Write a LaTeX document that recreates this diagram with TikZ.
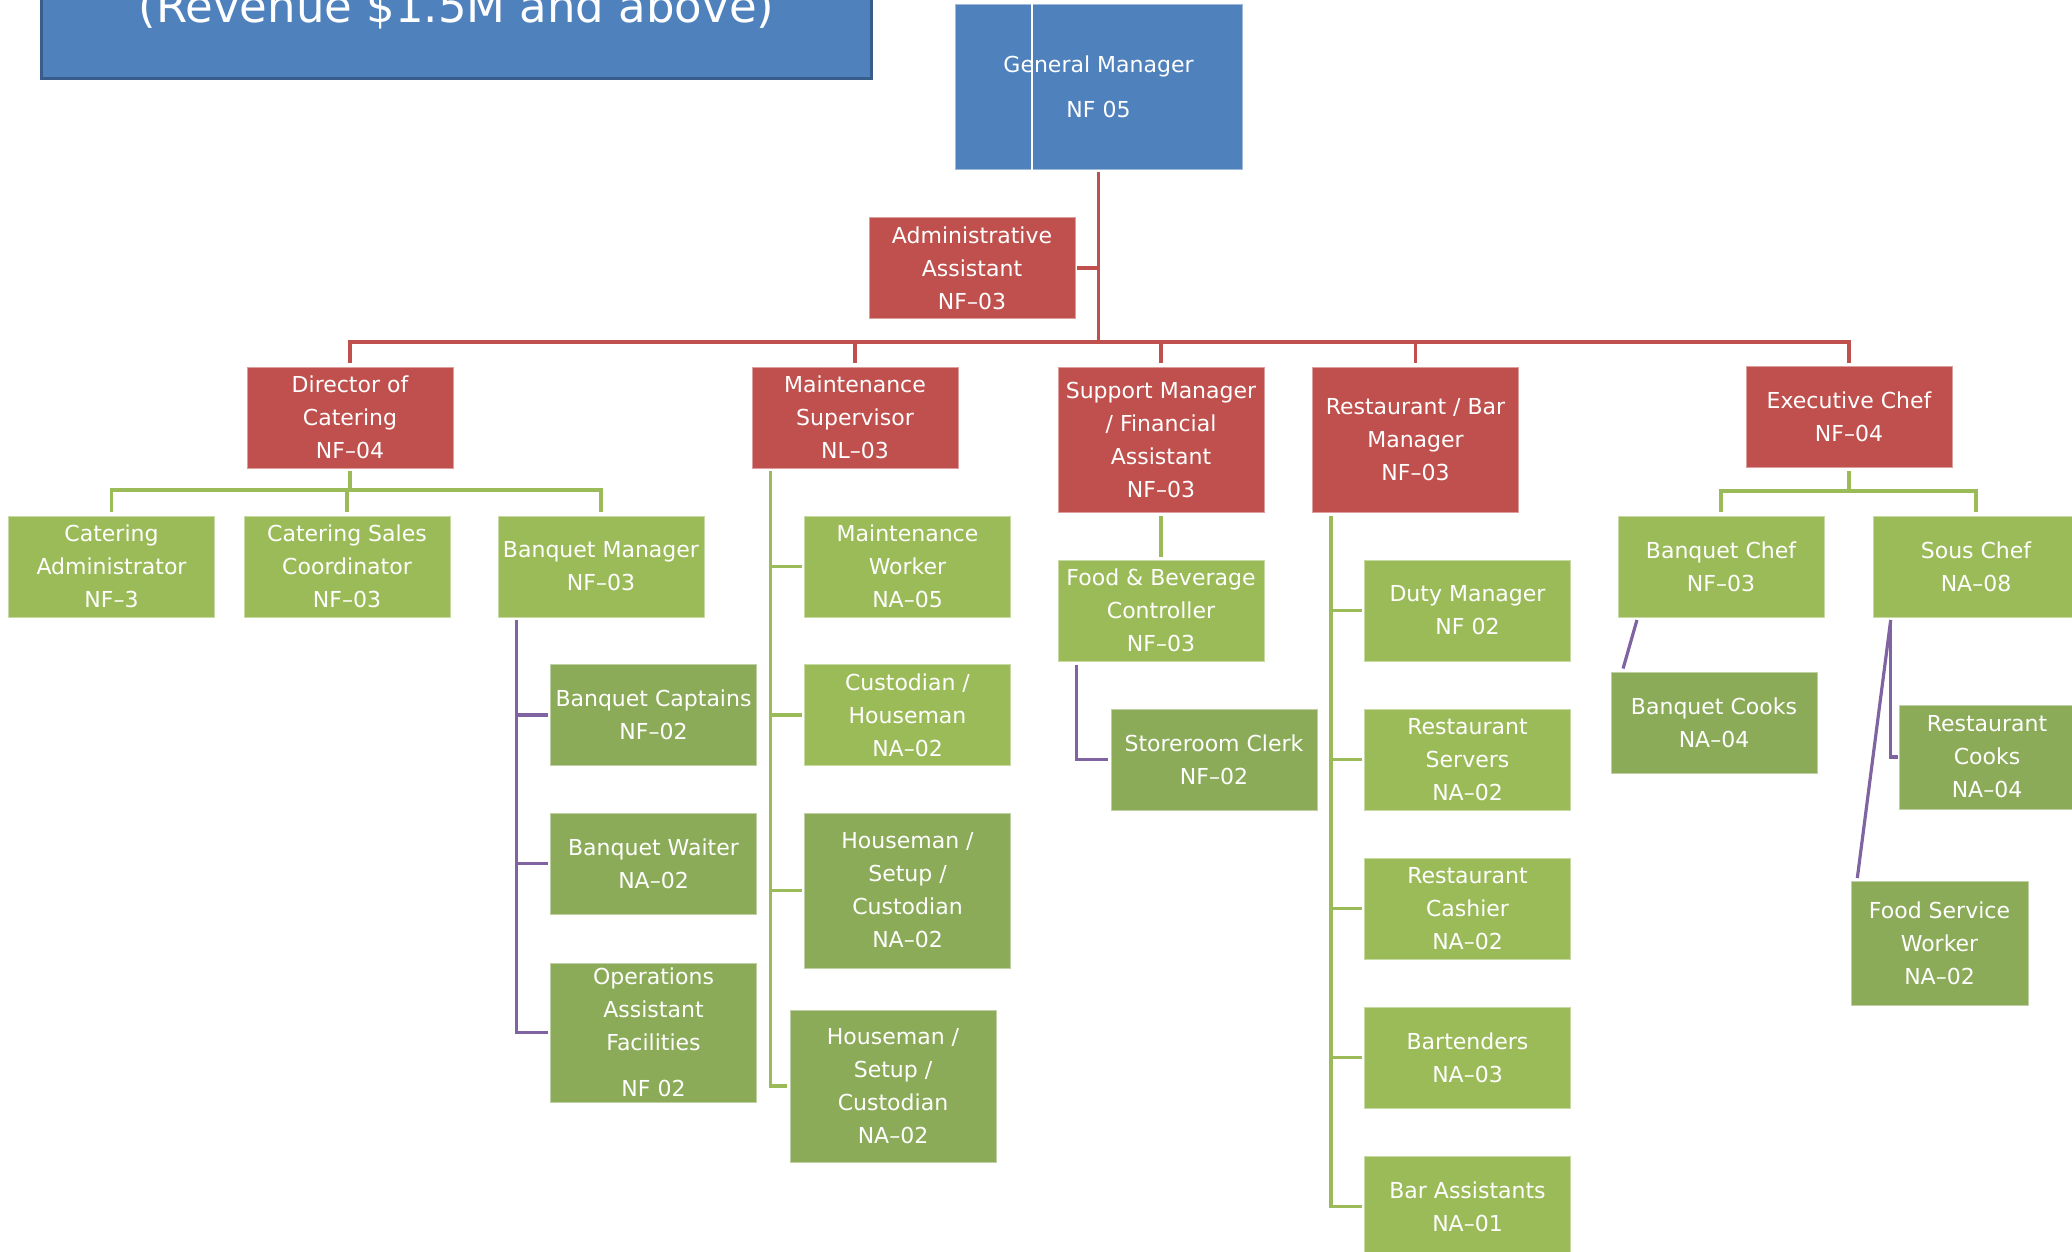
\documentclass[tikz,border=0pt]{standalone}
\usepackage{fontspec}
\setmainfont{DejaVu Sans}
\definecolor{hred}{HTML}{C0504D}
\definecolor{hgreen}{HTML}{9BBB59}
\definecolor{hdgreen}{HTML}{8BAB59}
\definecolor{hblue}{HTML}{4F81BD}
\definecolor{hnavy}{HTML}{385D8A}
\definecolor{hpurple}{HTML}{8064A2}
\tikzset{
  orgbox/.style={fill=#1, draw=#1!55!white, line width=0.5pt, text=white, align=center,
    inner sep=0pt, minimum width=103pt, minimum height=50.5pt, font=\fontsize{11}{16.5}\selectfont},
  titlebox/.style={fill=hblue, draw=hnavy, line width=1.5pt, text=white, minimum width=415pt,
    text height=40pt, text depth=27pt, inner ysep=1pt, font=\fontsize{22.5}{27}\selectfont},
  conn/.style={draw=#1, line width=1.6pt, line cap=rect},
}
\begin{document}
\begin{tikzpicture}[x=0.5pt, y=-0.5pt]
  \useasboundingbox (0,0) rectangle (2072,1252);
  \node[titlebox, anchor=base] (title) at (456.5,23) {(Revenue \$1.5M and above)};
  \node[orgbox=hblue, minimum width=143.5pt, minimum height=82pt] (gm) at (1098.5,87) {General Manager\\[6pt]NF 05};
  \draw[white, line width=0.6pt] ([xshift=-33.25pt]gm.north) -- ([xshift=-33.25pt]gm.south);
  \node[orgbox=hred] (admin) at (972,268) {Administrative\\Assistant\\NF–03};
  \node[orgbox=hred] (doc) at (350,417.5) {Director of\\Catering\\NF–04};
  \node[orgbox=hred] (ms) at (855,417.5) {Maintenance\\Supervisor\\NL–03};
  \node[orgbox=hred, minimum height=72.5pt] (sm) at (1161,439.5) {Support Manager\\/ Financial\\Assistant\\NF–03};
  \node[orgbox=hred, minimum height=72.5pt] (rbm) at (1415.5,439.5) {Restaurant / Bar\\Manager\\NF–03};
  \node[orgbox=hred] (ec) at (1849,417) {Executive Chef\\NF–04};
  % first row under the managers
  \node[orgbox=hgreen] (ca) at (111.5,566.5) {Catering\\Administrator\\NF–3};
  \node[orgbox=hgreen] (csc) at (347,566.5) {Catering Sales\\Coordinator\\NF–03};
  \node[orgbox=hgreen] (bm) at (601,566.5) {Banquet Manager\\NF–03};
  \node[orgbox=hgreen] (mw) at (907.5,566.5) {Maintenance\\Worker\\NA–05};
  \node[orgbox=hgreen] (bchef) at (1721,566.5) {Banquet Chef\\NF–03};
  \node[orgbox=hgreen] (sous) at (1976,566.5) {Sous Chef\\NA–08};
  \node[orgbox=hdgreen] (bc) at (653.5,715) {Banquet Captains\\NF–02};
  \node[orgbox=hdgreen] (bw) at (653.5,863.5) {Banquet Waiter\\NA–02};
  \node[orgbox=hdgreen, minimum height=69.5pt] (oaf) at (653.5,1032.5) {Operations\\Assistant\\Facilities\\[6.5pt]NF 02};
  \node[orgbox=hgreen] (ch) at (907.5,715) {Custodian /\\Houseman\\NA–02};
  \node[orgbox=hdgreen, minimum height=77.5pt] (hsc1) at (907.5,890.5) {Houseman /\\Setup /\\Custodian\\NA–02};
  \node[orgbox=hdgreen, minimum height=76pt] (hsc2) at (893,1086) {Houseman /\\Setup /\\Custodian\\NA–02};
  \node[orgbox=hgreen] (fbc) at (1161,610.5) {Food \& Beverage\\Controller\\NF–03};
  \node[orgbox=hdgreen] (src) at (1214,759.5) {Storeroom Clerk\\NF–02};
  \node[orgbox=hgreen] (rb1) at (1467.5,610.5) {Duty Manager\\NF 02};
  \node[orgbox=hgreen] (rb2) at (1467.5,759.5) {Restaurant\\Servers\\NA–02};
  \node[orgbox=hgreen] (rb3) at (1467.5,908.5) {Restaurant\\Cashier\\NA–02};
  \node[orgbox=hgreen] (rb4) at (1467.5,1057.5) {Bartenders\\NA–03};
  \node[orgbox=hgreen] (rb5) at (1467.5,1206.5) {Bar Assistants\\NA–01};
  \node[orgbox=hdgreen] (bcooks) at (1714,723) {Banquet Cooks\\NA–04};
  \node[orgbox=hdgreen, minimum width=88pt, minimum height=52pt] (rcooks) at (1987,757) {Restaurant\\Cooks\\NA–04};
  \node[orgbox=hdgreen, minimum width=88.5pt, minimum height=62pt] (fsw) at (1939.5,943) {Food Service\\Worker\\NA–02};

  % red bus
  \coordinate (bus) at (0,342);
  \draw[conn=hred] ([yshift=-2pt]gm.south) -- (gm.south |- bus);
  \draw[conn=hred] ([xshift=1.5pt]admin.east) -- (admin.east -| gm.south);
  \draw[conn=hred] (doc.north |- bus) -- (ec.north |- bus);
  \foreach \nm in {doc,ms,sm,rbm,ec}
       \draw[conn=hred] (\nm.north |- bus) -- ([yshift=2.5pt]\nm.north);

  \coordinate (docbus) at (0,490);
  \draw[conn=hgreen] ([yshift=-2pt]doc.south) -- (doc.south |- docbus);
  \draw[conn=hgreen] (ca.north |- docbus) -- (bm.north |- docbus);
  \foreach \nm in {ca,csc,bm}
       \draw[conn=hgreen] (\nm.north |- docbus) -- ([yshift=2.5pt]\nm.north);
  \coordinate (ecbus) at (0,491);
  \draw[conn=hgreen] ([yshift=-2.5pt]ec.south) -- (ec.south |- ecbus);
  \draw[conn=hgreen] (bchef.north |- ecbus) -- (sous.north |- ecbus);
  \foreach \nm in {bchef,sous}
       \draw[conn=hgreen] (\nm.north |- ecbus) -- ([yshift=2.5pt]\nm.north);

  \draw[conn=hpurple] ([shift={(9.5pt,-2pt)}]bm.south west) coordinate (bmline) |- ([xshift=-2pt]oaf.west);
  \foreach \nm in {bc,bw}
       \draw[conn=hpurple] (bmline |- \nm.west) -- ([xshift=-2pt]\nm.west);
  \draw[conn=hgreen] ([shift={(9.5pt,-2pt)}]ms.south west) coordinate (msline) |- ([xshift=-2pt]hsc2.west);
  \foreach \nm in {mw,ch,hsc1}
       \draw[conn=hgreen] (msline |- \nm.west) -- ([xshift=-2pt]\nm.west);
  \draw[conn=hgreen] ([yshift=-2.5pt]sm.south) -- ([yshift=2pt]fbc.north);
  \draw[conn=hpurple] ([shift={(9.5pt,-2.5pt)}]fbc.south west) |- ([xshift=-2pt]src.west);
  \draw[conn=hgreen] ([shift={(9.5pt,-2.5pt)}]rbm.south west) coordinate (rbline) |- ([xshift=-2pt]rb5.west);
  \foreach \n in {1,...,4}
       \draw[conn=hgreen] (rbline |- rb\n.west) -- ([xshift=-2pt]rb\n.west);

  \draw[conn=hpurple] ([shift={(9.5pt,-2pt)}]bchef.south west) -- ([shift={(6.5pt,2.5pt)}]bcooks.north west);
  \draw[conn=hpurple] ([shift={(9pt,-2pt)}]sous.south west) coordinate (sousline) |- ([xshift=-1pt]rcooks.west);
  \draw[conn=hpurple] (sousline) -- ([shift={(3.5pt,2pt)}]fsw.north west);
\end{tikzpicture}
\end{document}
